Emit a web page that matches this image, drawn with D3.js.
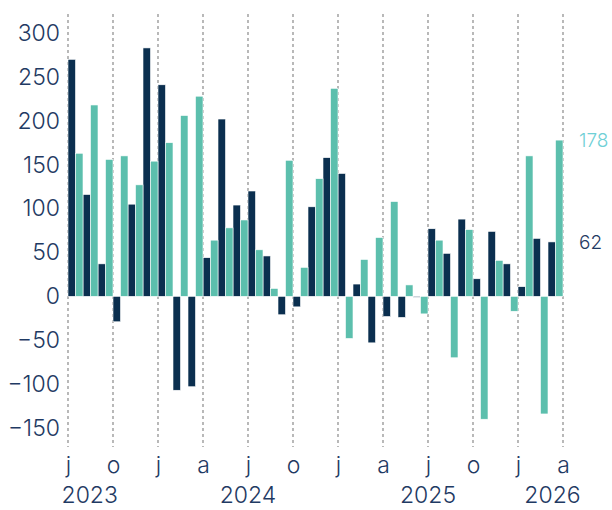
<!DOCTYPE html>
<html>
<head>
<meta charset="utf-8">
<script src="https://cdn.jsdelivr.net/npm/d3@7"></script>
<style>
  body { margin: 0; background: #fff; }
  svg text { font-family: Inter, Roboto, sans-serif; font-weight: 300; }
</style>
</head>
<body>
<svg id="chart" width="612" height="510"></svg>
<script>
// monthly data, Jul 2023 .. Mar 2026
const startYear = 2023, startMonth = 6; // July (0-based)
const navyValues = [270, 116, 37, -29, 105, 283, 241, -107, -103, 44, 202, 104,
  120, 46, -21, -12, 102, 158, 140, 14, -53, -23, -24, -1,
  77, 49, 88, 20, 74, 37, 11, 66, 62];
const tealValues = [163, 218, 156, 160, 127, 154, 175, 206, 228, 64, 78, 87,
  53, 9, 155, 33, 134, 237, -48, 42, 67, 108, 13, -20,
  64, -70, 76, -140, 41, -17, 160, -134, 178];
const yTicks = [-150, -100, -50, 0, 50, 100, 150, 200, 250, 300];
const monthLetters = ["j", "f", "m", "a", "m", "j", "j", "a", "s", "o", "n", "d"];
// year labels: [year, month offset from Jul 2023 where the label sits]
const yearLabels = [[2023, 1.45], [2024, 12], [2025, 24], [2026, 32.3]];

const navy = "#0b2f4f", teal = "#5cbfad", textColor = "#1f3a63";

const svg = d3.select("#chart");
const plotLeft = 68, plotRight = 563, plotTop = 33, plotBottom = 428;

const x = d3.scaleLinear().domain([0, navyValues.length]).range([plotLeft, plotRight]);
const y = d3.scaleLinear().domain([-150, 300]).range([plotBottom, plotTop]);
const bw = x(1) - x(0);

// grid lines at quarter starts
const quarterIdx = d3.range(0, navyValues.length + 1, 3);
const xAxis = d3.axisBottom(x)
  .tickValues(quarterIdx)
  .tickSize(0)
  .tickFormat(i => monthLetters[(startMonth + i) % 12]);

svg.append("g")
  .attr("class", "grid")
  .selectAll("line")
  .data(quarterIdx)
  .join("line")
  .attr("x1", d => x(d)).attr("x2", d => x(d))
  .attr("y1", 14).attr("y2", 447)
  .attr("stroke", "#8a8a8a")
  .attr("stroke-width", 1.2)
  .attr("stroke-dasharray", "3,3");

const bars = svg.append("g");
bars.selectAll("rect.navy")
  .data(navyValues)
  .join("rect")
  .attr("class", "navy")
  .attr("x", (d, i) => x(i))
  .attr("width", bw / 2)
  .attr("y", d => y(Math.max(0, d)))
  .attr("height", d => Math.max(0.8, Math.abs(y(d) - y(0))))
  .attr("fill", navy)
  .attr("stroke", "#fff")
  .attr("stroke-width", 0.6);

bars.selectAll("rect.teal")
  .data(tealValues)
  .join("rect")
  .attr("class", "teal")
  .attr("x", (d, i) => x(i) + bw / 2)
  .attr("width", bw / 2)
  .attr("y", d => y(Math.max(0, d)))
  .attr("height", d => Math.max(0.8, Math.abs(y(d) - y(0))))
  .attr("fill", teal)
  .attr("stroke", "#fff")
  .attr("stroke-width", 0.6);

// y axis
const yAxis = d3.axisLeft(y).tickValues(yTicks).tickSize(0).tickPadding(0);
const gY = svg.append("g").attr("transform", "translate(60,0)").call(yAxis);
gY.select(".domain").remove();
gY.selectAll("text")
  .attr("fill", textColor)
  .style("font-size", "23px");

// x axis month letters
const gX = svg.append("g").attr("transform", "translate(0,454)").call(xAxis);
gX.select(".domain").remove();
gX.selectAll("text")
  .attr("dy", "0.71em")
  .attr("fill", textColor)
  .style("font-size", "23px");

// year labels
svg.append("g")
  .selectAll("text")
  .data(yearLabels)
  .join("text")
  .attr("x", d => x(d[1]))
  .attr("y", 503)
  .attr("text-anchor", "middle")
  .attr("fill", textColor)
  .style("font-size", "23px")
  .text(d => d[0]);

// end-value labels
const last = navyValues.length - 1;
svg.append("text")
  .attr("x", 579).attr("y", y(tealValues[last]))
  .attr("dy", "0.35em")
  .attr("fill", "#6fd0d6")
  .style("font-size", "19px")
  .text(tealValues[last]);
svg.append("text")
  .attr("x", 579).attr("y", y(navyValues[last]))
  .attr("dy", "0.35em")
  .attr("fill", textColor)
  .style("font-size", "19px")
  .text(navyValues[last]);
</script>
</body>
</html>
